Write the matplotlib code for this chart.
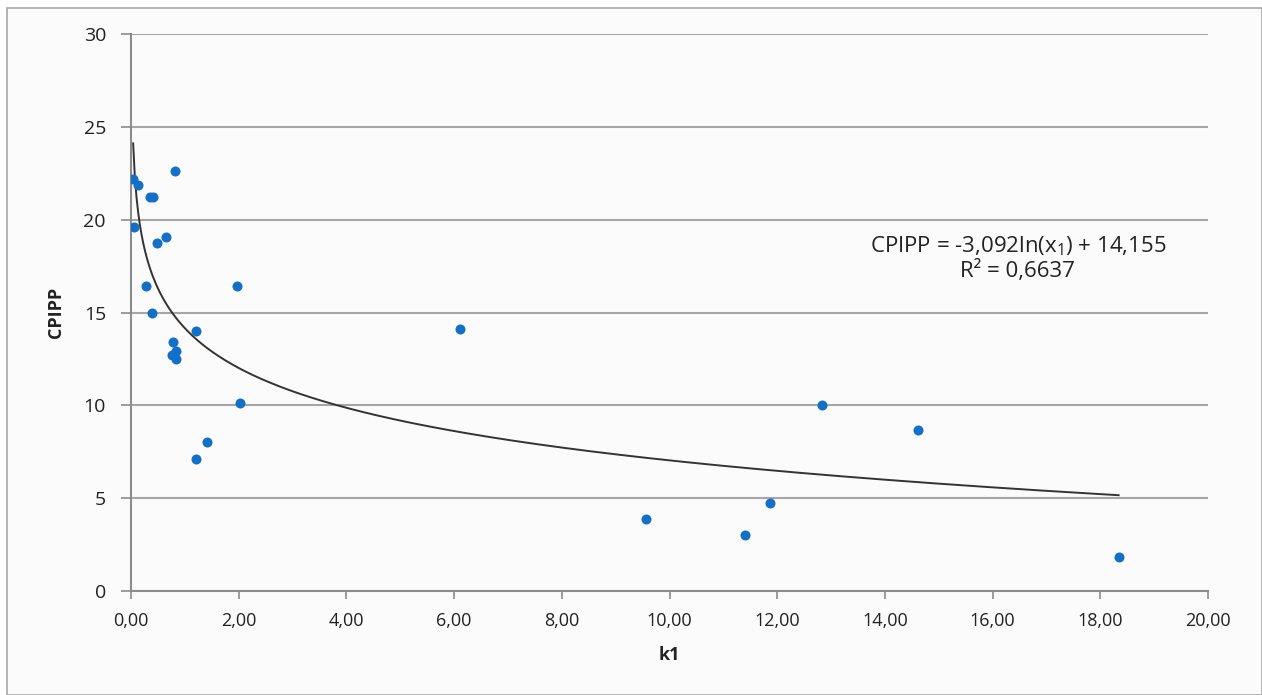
import numpy as np
import matplotlib.pyplot as plt
from matplotlib.patches import Rectangle

# data
k1 = [0.04, 0.13, 0.82, 0.35, 0.41, 0.05, 0.48, 0.65, 0.28, 1.97,
      0.39, 1.21, 0.78, 0.76, 0.84, 0.84, 2.02, 1.41, 1.21, 6.11,
      9.56, 11.41, 11.87, 12.83, 14.61, 18.34]
cpipp = [22.19, 21.86, 22.62, 21.2, 21.2, 19.6, 18.74, 19.06, 16.42, 16.42,
         14.97, 14.0, 13.4, 12.71, 12.92, 12.49, 10.12, 8.02, 7.11, 14.11,
         3.88, 3.0, 4.72, 10.02, 8.69, 1.85]

# trendline coefficients as printed on the chart
coef_a = -3.092
coef_b = 14.155

x_ticks = np.arange(0, 21, 2)
y_ticks = np.arange(0, 31, 5)

plt.rcParams['font.family'] = ['Open Sans', 'DejaVu Sans']
plt.rcParams['mathtext.fontset'] = 'custom'
plt.rcParams['mathtext.rm'] = 'Open Sans'
plt.rcParams['mathtext.it'] = 'Open Sans'

fig = plt.figure(figsize=(12.62, 6.95), dpi=100)
fig.patch.set_facecolor('white')

# chart area background with thin border
fig.patches.append(Rectangle((7 / 1262, 0), 1 - 7 / 1262, 1 - 8 / 695,
                             transform=fig.transFigure, facecolor='#fbfbfb',
                             edgecolor='#a8a8a8', linewidth=1.2, zorder=-5))

ax = fig.add_axes([131 / 1262, 1 - 591 / 695, (1208 - 131) / 1262, (591 - 34) / 695])
ax.set_facecolor('#fbfbfb')

ax.scatter(k1, cpipp, s=52, color='#1370c8', zorder=3, linewidths=0)

xs = np.linspace(min(k1), max(k1), 600)
ax.plot(xs, coef_a * np.log(xs) + coef_b, color='#333333', lw=1.4, zorder=2)

ax.set_xlim(0, 20)
ax.set_ylim(0, 30)
ax.set_xticks(x_ticks)
ax.set_xticklabels([f'{v:.2f}'.replace('.', ',') for v in x_ticks])
ax.set_yticks(y_ticks)
ax.set_yticklabels([str(v) for v in y_ticks])

ax.yaxis.grid(True, color='#a6a6a6', lw=1.5)
ax.set_axisbelow(True)
for s in ['top', 'right']:
    ax.spines[s].set_visible(False)
for s in ['left', 'bottom']:
    ax.spines[s].set_color('#8c8c8c')
    ax.spines[s].set_linewidth(1.5)

ax.tick_params(axis='y', length=7, width=1.2, color='#8c8c8c', labelsize=14,
               pad=11, labelcolor='#222222')
ax.tick_params(axis='x', length=6, width=1.2, color='#8c8c8c', labelsize=13,
               pad=9, labelcolor='#222222')

ax.set_xlabel('k1', fontsize=13, fontweight='bold', labelpad=12, color='#222222')
ax.set_ylabel('CPIPP', fontsize=13, fontweight='bold', labelpad=13, color='#222222')

ax.text(16.47, 17.93, 'CPIPP = -3,092ln(x$_1$) + 14,155\nR\u00b2 = 0,6637',
        ha='center', va='center', fontsize=16, linespacing=1.15, color='#222222')

fig.savefig('out.png', dpi=100)
